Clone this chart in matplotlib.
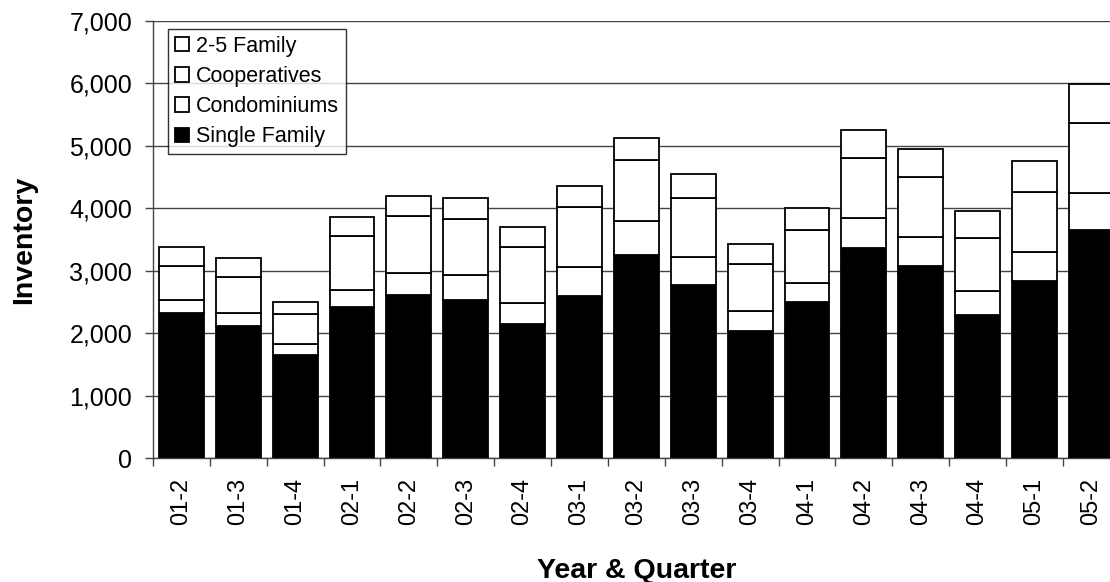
import numpy as np
import matplotlib
matplotlib.use("Agg")
import matplotlib.pyplot as plt
from matplotlib.patches import Patch

plt.rcParams['font.family'] = ['Liberation Sans', 'DejaVu Sans']

# quarters and inventory by property type
quarters = ['01-2', '01-3', '01-4', '02-1', '02-2', '02-3', '02-4', '03-1', '03-2',
            '03-3', '03-4', '04-1', '04-2', '04-3', '04-4', '05-1', '05-2']
single_family = [2320, 2120, 1650, 2420, 2620, 2540, 2145, 2600, 3260,
                 2775, 2045, 2500, 3360, 3080, 2290, 2845, 3660]
condominiums = [215, 210, 175, 280, 350, 395, 340, 455, 545,
                455, 320, 305, 480, 460, 385, 460, 590]
cooperatives = [540, 580, 480, 855, 905, 890, 895, 975, 970,
                940, 745, 855, 960, 960, 850, 965, 1115]
two_five_family = [310, 290, 200, 305, 325, 340, 315, 335, 355,
                   380, 325, 345, 450, 450, 430, 490, 620]

series = [
    ('Single Family', single_family, 'black'),
    ('Condominiums', condominiums, 'white'),
    ('Cooperatives', cooperatives, 'white'),
    ('2-5 Family', two_five_family, 'white'),
]

fig = plt.figure(figsize=(11.1, 5.82), dpi=100)
ax = fig.add_axes([0.1378, 0.2125, 0.871, 0.7515])

x = np.arange(len(quarters))
bottom = np.zeros(len(quarters))
for name, vals, col in series:
    ax.bar(x, vals, bottom=bottom, width=0.79, color=col, edgecolor='black',
           linewidth=1.3, zorder=3)
    bottom += np.array(vals)

ax.set_xlim(-0.5, len(quarters) - 0.5)
ax.set_ylim(0, 7000)
ax.set_yticks(range(0, 7001, 1000))
ax.set_yticklabels([f'{v:,}' for v in range(0, 7001, 1000)])
ax.yaxis.grid(True, color='#444444', linewidth=1.0, zorder=0)

ax.set_xticks(x)
ax.set_xticklabels(quarters, rotation=90)
ax.set_xticks(np.arange(-0.5, len(quarters), 1), minor=True)
ax.tick_params(axis='x', which='major', length=0, pad=14, labelsize=17)
ax.tick_params(axis='x', which='minor', length=6, width=1, color='#444444')
ax.tick_params(axis='y', length=6, width=1, color='#444444', pad=9, labelsize=18)

for s in ['top', 'right']:
    ax.spines[s].set_visible(False)
for s in ['left', 'bottom']:
    ax.spines[s].set_color('#444444')
    ax.spines[s].set_linewidth(1.0)

fig.text(0.574, 4 / 582, 'Year & Quarter', fontsize=20.5, fontweight='bold',
         ha='center', va='baseline')
ax.set_ylabel('Inventory', fontsize=20.5, fontweight='bold')
ax.yaxis.set_label_coords(-0.12, 0.5)

handles = [Patch(facecolor=col, edgecolor='black', linewidth=1.3, label=name)
           for name, vals, col in series][::-1]
leg = ax.legend(handles=handles, loc='upper left', bbox_to_anchor=(0.016, 0.982),
                fontsize=15.5, frameon=True, fancybox=False, borderpad=0.32,
                labelspacing=0.43, handlelength=0.65, handleheight=0.65,
                handletextpad=0.3, borderaxespad=0)
leg.get_frame().set_edgecolor('black')
leg.get_frame().set_linewidth(1.0)
leg.set_zorder(5)

fig.savefig('out.png', dpi=100)
